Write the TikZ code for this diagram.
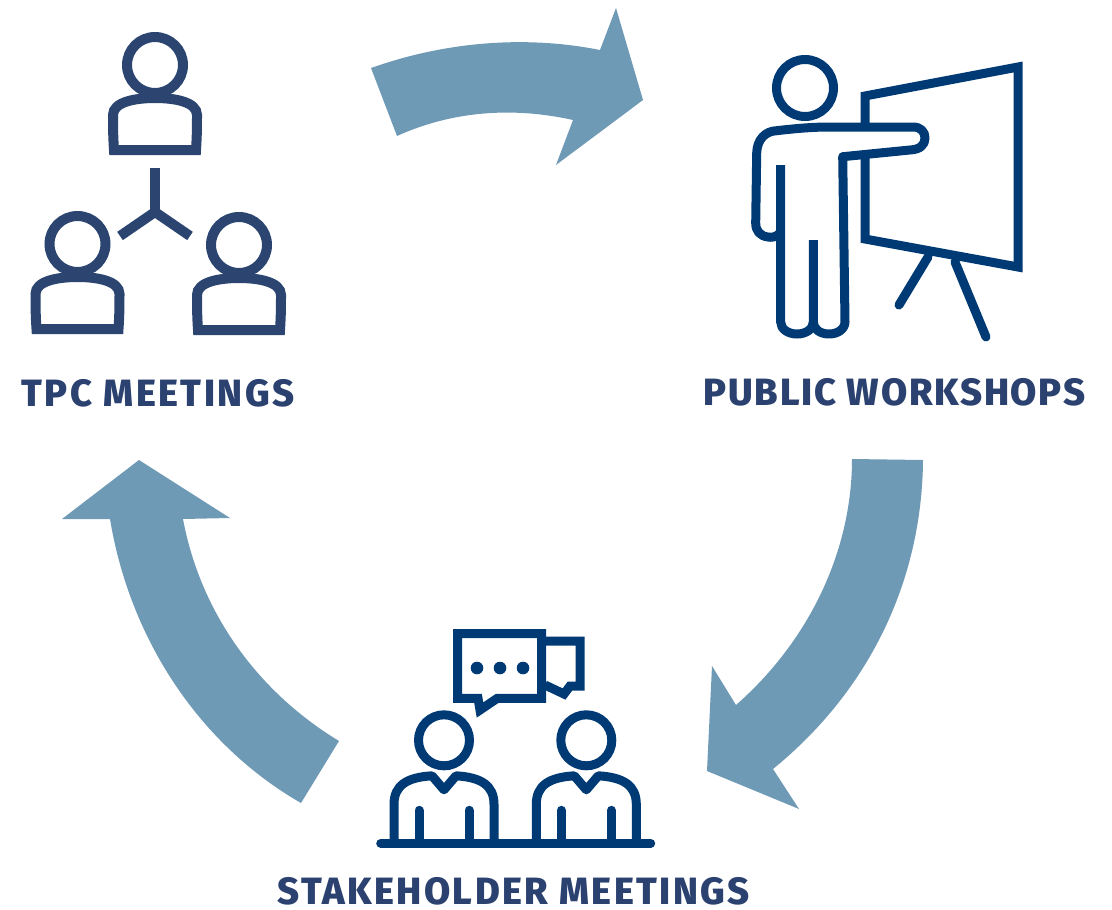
\documentclass[tikz,border=0pt]{standalone}
\usepackage{fontspec}
\setmainfont{Fira Sans}[BoldFont={Fira Sans ExtraBold}]
\definecolor{arrowblue}{HTML}{6F9AB6}
\definecolor{tpcnavy}{HTML}{2B4570}
\definecolor{iconnavy}{HTML}{003A75}
\definecolor{labelnavy}{HTML}{2B4170}
\tikzset{
  cyclearrow/.style={fill=arrowblue,draw=none},
  iconline/.style={draw=iconnavy,line width=9pt,line join=miter},
  tpcline/.style={draw=tpcnavy,line width=10pt,line join=miter},
  caption/.style={font=\fontsize{38}{42}\selectfont\bfseries,text=labelnavy,inner sep=0pt,anchor=center},
  pics/tpcperson/.style={code={
    \draw[tpcline] (0,0) circle[radius=28];
    \draw[tpcline] (-41,85) .. controls (-42,70) and (-42,60) .. (-42,50)
      .. controls (-42,37) and (-20,33) .. (0,33)
      .. controls (20,33) and (42,37) .. (42,50)
      .. controls (42,60) and (42,70) .. (41,85) -- cycle;
  }},
  pics/deskperson/.style={code={
    \draw[iconline] (0,0) circle[radius=25.5];
    \draw[iconline,line join=round] (-50,103) -- (-50,64)
      .. controls (-50,45) and (-37,37) .. (-12,35.5)
      -- (0,49.5) -- (12,35.5)
      .. controls (37,37) and (50,45) .. (50,64) -- (50,103);
    \draw[iconline,line cap=round] (-25,70) -- (-25,103);
    \draw[iconline,line cap=round] (25,70) -- (25,103);
  }}
}
\begin{document}
\begin{tikzpicture}[x=1pt,y=-1pt]
\useasboundingbox (0,0) rectangle (1112,910);
% cycle arrows
\fill[cyclearrow] (371,68) .. controls (450,40) and (530,36) .. (600,50)
  -- (616,8) -- (643,100) -- (556,165) -- (573,120)
  .. controls (510,106) and (450,112) .. (397,136) -- cycle;
\fill[cyclearrow] (852,459) -- (923,460)
  .. controls (922,580) and (870,690) .. (773,769)
  -- (799,809) -- (707,771) -- (712,666) -- (736,705)
  .. controls (810,640) and (852,550) .. (852,459) -- cycle;
\fill[cyclearrow] (339,741) -- (301,803)
  .. controls (200,745) and (130,640) .. (110,519)
  -- (62,519) -- (139,460) -- (230,518) -- (183,519)
  .. controls (200,610) and (255,690) .. (339,741) -- cycle;
% TPC icon
\pic at (155,65) {tpcperson};
\pic at (77.5,244) {tpcperson};
\pic at (239,245) {tpcperson};
\coordinate (hub) at (155,212);
\coordinate (stem) at (155,168);
\coordinate (armL) at (120,236);
\coordinate (armR) at (190,236);
\draw[tpcline] (stem) -- (hub);
\draw[tpcline] (armL) -- (hub) -- (armR);
% Public workshop icon
\draw[iconline] (865,96) -- (1018,67) -- (1018,267) -- (865,239) -- cycle;
\draw[iconline,line cap=round] (928,257) -- (899,305);
\draw[iconline,line cap=round] (955,262) -- (986,337);
\draw[iconline] (805,88) circle[radius=28.5];
\draw[iconline,fill=white,line join=round]
  (780.7,232) .. controls (776,238) and (771,237.5) .. (768,237)
  .. controls (760,236) and (755.7,231) .. (755.7,223)
  -- (756.7,153) .. controls (757,140) and (765,131) .. (776.7,130.7)
  .. controls (800,128) and (815,127) .. (830,127)
  -- (913,127) .. controls (921,127) and (925,132) .. (925,138)
  .. controls (925,145) and (920,149.5) .. (910,150)
  -- (842.7,156.7) -- (845,321.7)
  .. controls (845,329) and (838,334) .. (829,334)
  .. controls (820,334) and (813.3,329) .. (813.3,322);
\draw[iconline] (780.7,165) -- (780.7,322)
  .. controls (780.7,329) and (788,334) .. (797,334)
  .. controls (806,334) and (813.3,329) .. (813.3,322) -- (813.3,240);
% Stakeholder icon
\draw[iconline] (457.7,633.7) -- (541.7,633.7) -- (541.7,698.3) -- (497.3,698.3)
  -- (480,710) -- (478,698.3) -- (457.7,698.3) -- cycle;
\draw[iconline] (546,641) -- (580,641) -- (580,686) -- (570,686) -- (564,694) -- (545,685);
\fill[iconnavy] (477,668) circle[radius=6.3];
\fill[iconnavy] (500,668) circle[radius=6.3];
\fill[iconnavy] (523,668) circle[radius=6.3];
\pic at (444,740.3) {deskperson};
\pic at (586.3,740.3) {deskperson};
\coordinate (tableL) at (380.7,843.3);
\coordinate (tableR) at (650.7,843.3);
\draw[iconline,line cap=round] (tableL) -- (tableR);
% captions
\node[caption] (tpc) at (158,393) {\addfontfeature{LetterSpace=6.5}TPC MEETINGS};
\node[caption] (public) at (894.5,392) {\addfontfeature{LetterSpace=4.6}PUBLIC WORKSHOPS};
\node[caption] (stake) at (513.5,891) {\addfontfeature{LetterSpace=6.4}STAKEHOLDER MEETINGS};
\end{tikzpicture}
\end{document}
